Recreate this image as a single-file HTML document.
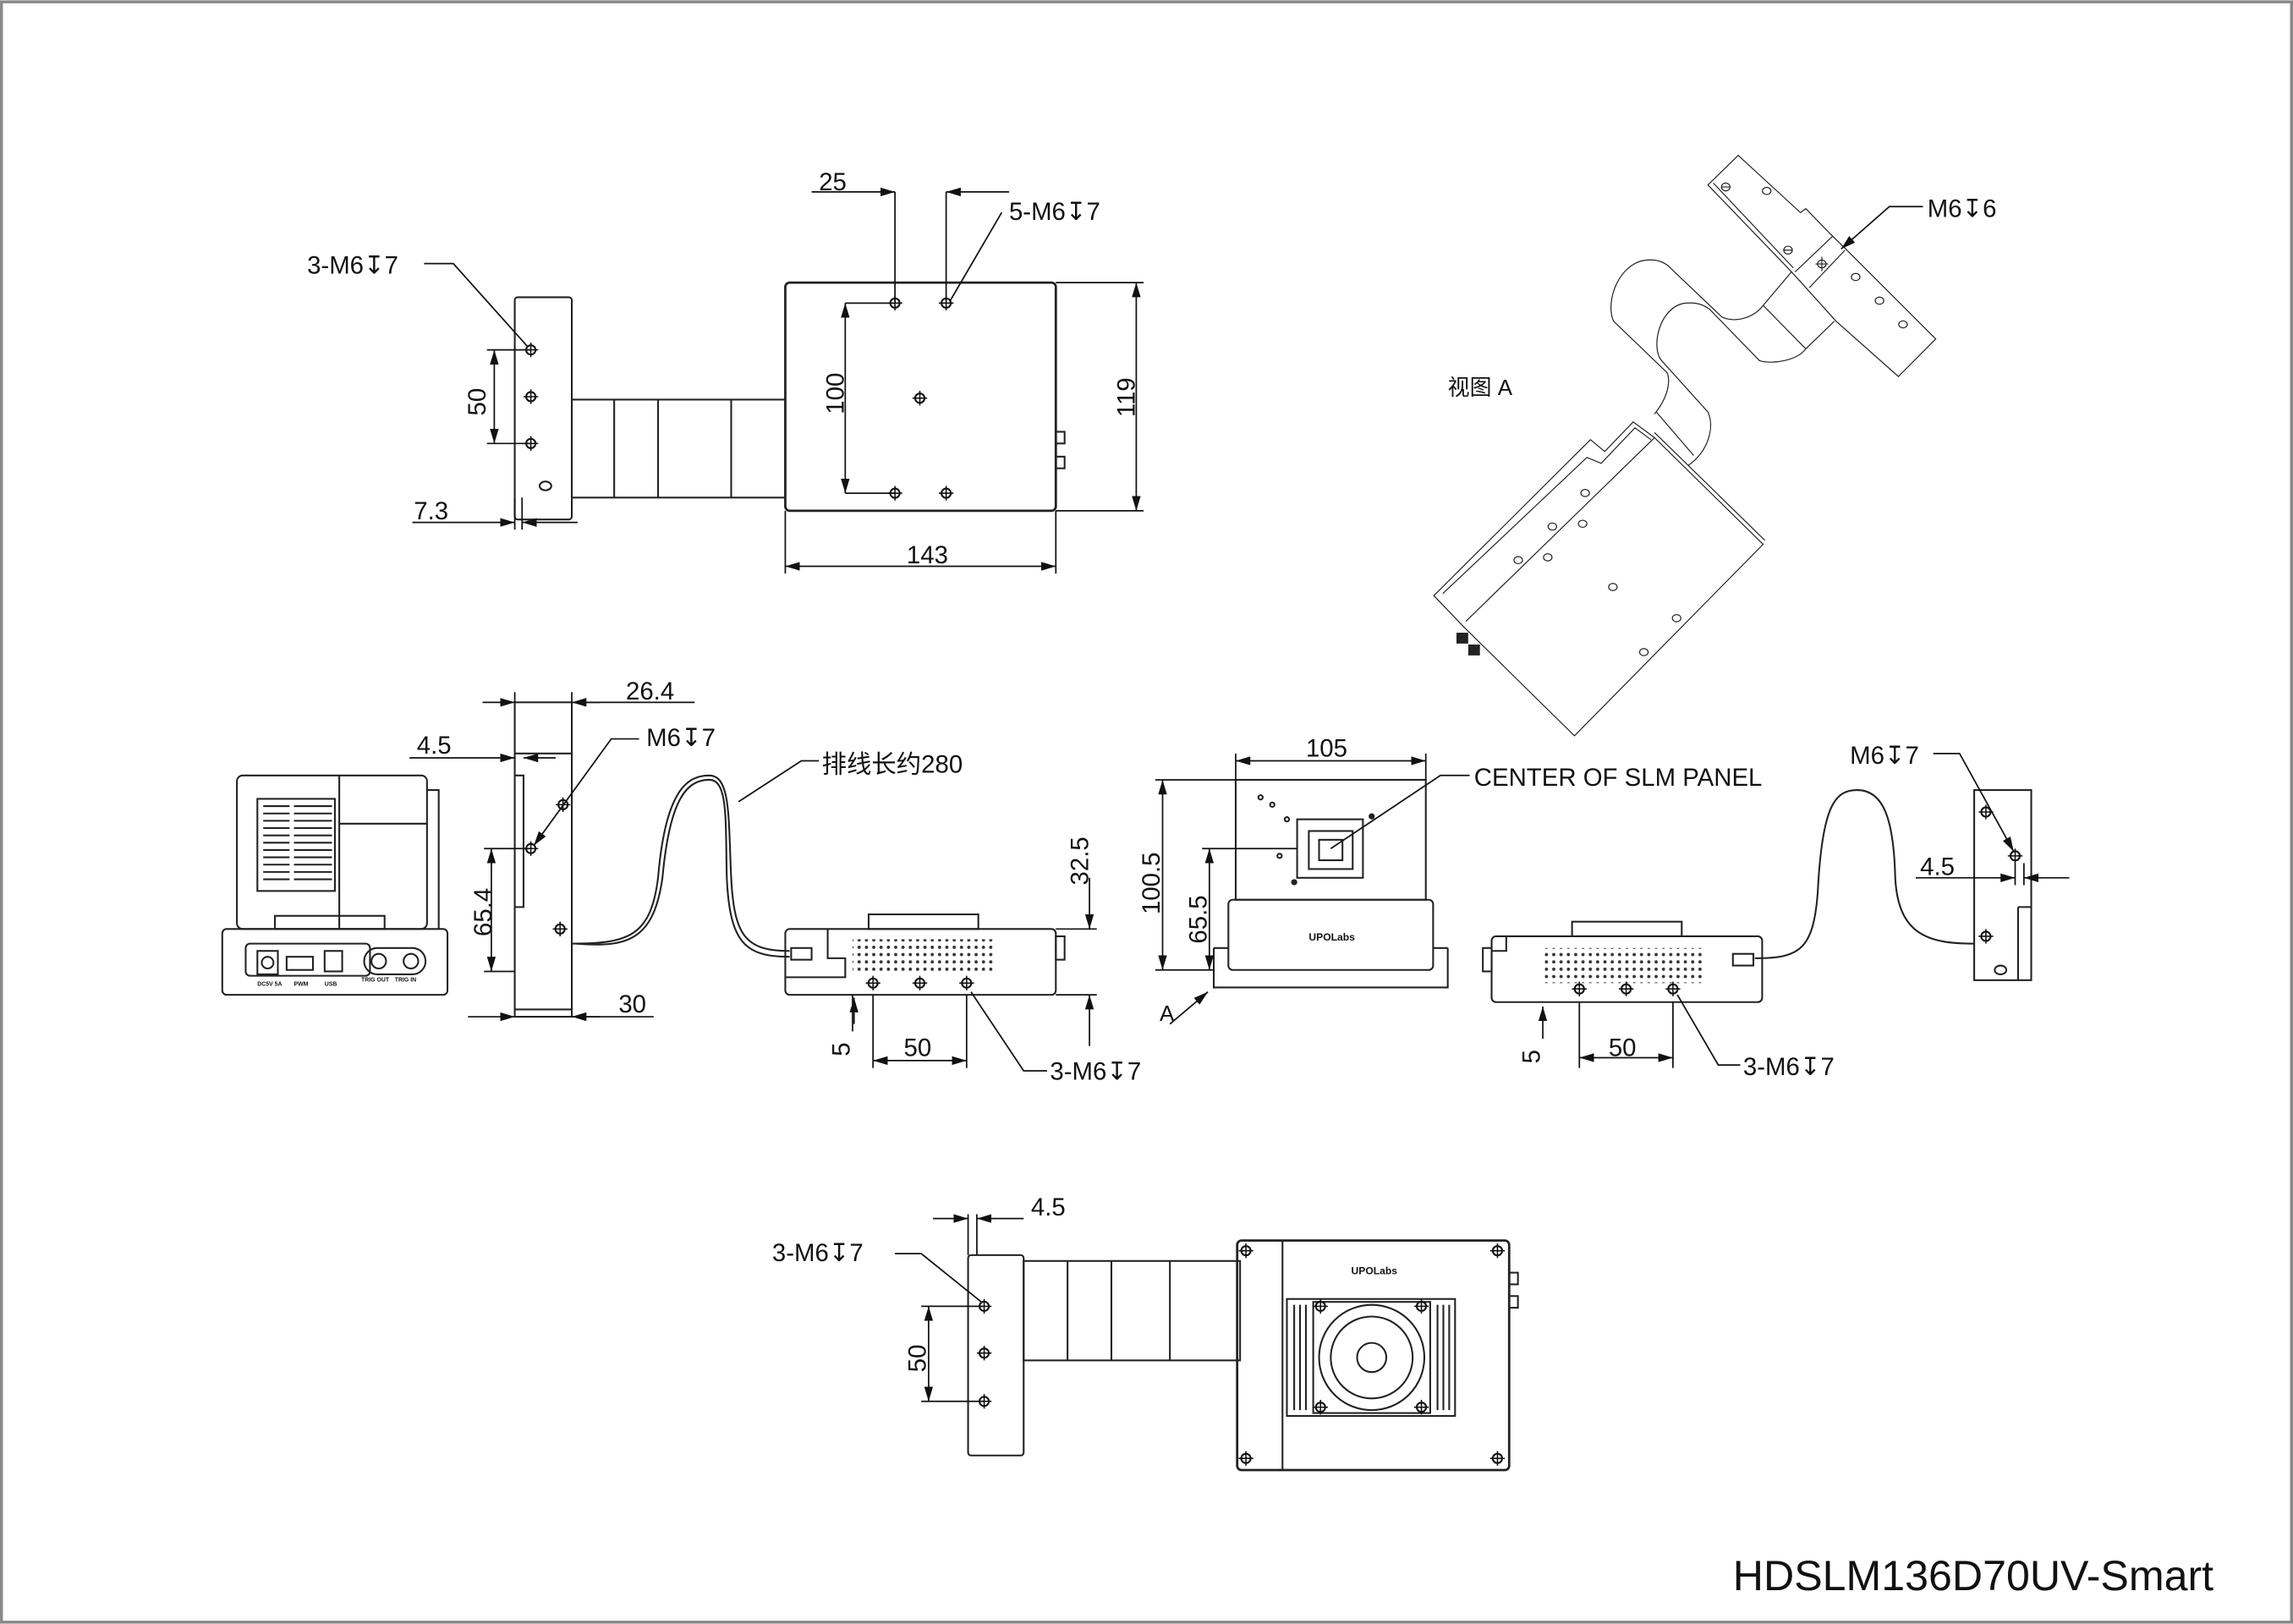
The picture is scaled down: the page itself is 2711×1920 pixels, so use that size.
<!DOCTYPE html>
<html><head><meta charset="utf-8"><style>
html,body{margin:0;padding:0;background:#fff;}
svg{display:block;}
text{font-family:"Liberation Sans","Noto Sans CJK SC",sans-serif;fill:#111;}
</style></head><body>
<svg width="2711" height="1920" viewBox="0 0 1568 1110" xmlns="http://www.w3.org/2000/svg">
<defs>
<marker id="a" viewBox="0 0 10 6" refX="10" refY="3" markerWidth="10" markerHeight="6" orient="auto-start-reverse" markerUnits="userSpaceOnUse"><path d="M0,0L10,3L0,6z" fill="#111"/></marker>
<g id="h"><circle r="3.2" fill="none" stroke="#111" stroke-width="1.2"/><path d="M-5,0H5M0,-5V5" stroke="#111" stroke-width="0.9"/></g>
<pattern id="dots" width="5" height="5" patternUnits="userSpaceOnUse"><circle cx="2.5" cy="2.5" r="1.1" fill="#333"/></pattern>
</defs>
<rect x="1" y="1" width="1566" height="1108" fill="#fff" stroke="#888" stroke-width="2"/>
<g fill="none" stroke="#222" stroke-width="1.2">
<!-- TOP VIEW -->
<rect x="352" y="203" width="39" height="152" rx="2"/>
<rect x="391" y="273" width="146" height="67"/>
<path d="M420,273V340M450,273V340M500,273V340"/>
<rect x="537" y="193" width="185" height="156" rx="3" stroke-width="1.6"/>
<rect x="722" y="295" width="6" height="8"/><rect x="722" y="312" width="6" height="8"/>
<ellipse cx="373" cy="332" rx="4" ry="3"/>
</g>
<use href="#h" x="363" y="239"/><use href="#h" x="363" y="271"/><use href="#h" x="363" y="303"/>
<use href="#h" x="612" y="207"/><use href="#h" x="647" y="207"/><use href="#h" x="629" y="272"/><use href="#h" x="612" y="337"/><use href="#h" x="647" y="337"/>
<g stroke="#111" stroke-width="1" fill="none">
<path d="M722,193H782M722,349H782"/><path d="M777,193V349" marker-start="url(#a)" marker-end="url(#a)"/>
<path d="M537,349V392M722,349V392"/><path d="M537,387H722" marker-start="url(#a)" marker-end="url(#a)"/>
<path d="M578,207V337" marker-start="url(#a)" marker-end="url(#a)"/><path d="M578,207H612M578,337H612"/>
<path d="M612,207V131M647,207V131"/><path d="M555,131H612" marker-end="url(#a)"/><path d="M690,131H647" marker-end="url(#a)"/>
<path d="M685,145L650,205"/>
<path d="M290,180H310L361,237"/>
<path d="M338,239V303" marker-start="url(#a)" marker-end="url(#a)"/><path d="M333,239H363M333,303H363"/>
<path d="M352,340V362M357,340V362"/><path d="M282,357H352" marker-end="url(#a)"/><path d="M395,357H357" marker-end="url(#a)"/>
</g>
<g font-size="17">
<text x="560" y="130">25</text><text x="690" y="150">5-M6↧7</text>
<text x="210" y="187">3-M6↧7</text>
<text x="620" y="385">143</text>
<text transform="translate(776,285) rotate(-90)">119</text>
<text transform="translate(577,283) rotate(-90)">100</text>
<text transform="translate(332,284) rotate(-90)">50</text>
<text x="283" y="355">7.3</text>
</g>
<!-- ISO VIEW A -->
<g transform="matrix(0.2434,0,0,0.270,965.9,92.5)" fill="none" stroke="#222" stroke-width="1.2">
<g vector-effect="non-scaling-stroke">
<polygon vector-effect="non-scaling-stroke" points="60,1165 500,770 540,800 620,725 680,765 985,1035 455,1520 145,1245"/>
<path vector-effect="non-scaling-stroke" d="M150,1230L680,765M85,1160L490,815L530,830L625,740L670,770M680,752L990,1025"/>
<ellipse vector-effect="non-scaling-stroke" cx="485" cy="905" rx="12" ry="9"/>
<ellipse vector-effect="non-scaling-stroke" cx="393" cy="990" rx="12" ry="9"/>
<ellipse vector-effect="non-scaling-stroke" cx="478" cy="983" rx="12" ry="9"/>
<ellipse vector-effect="non-scaling-stroke" cx="297" cy="1075" rx="12" ry="9"/>
<ellipse vector-effect="non-scaling-stroke" cx="380" cy="1068" rx="12" ry="9"/>
<ellipse vector-effect="non-scaling-stroke" cx="563" cy="1143" rx="12" ry="9"/>
<ellipse vector-effect="non-scaling-stroke" cx="742" cy="1222" rx="12" ry="9"/>
<ellipse vector-effect="non-scaling-stroke" cx="650" cy="1308" rx="12" ry="9"/>
<rect vector-effect="non-scaling-stroke" x="125" y="1260" width="30" height="25" fill="#222"/>
<rect vector-effect="non-scaling-stroke" x="158" y="1290" width="30" height="25" fill="#222"/>
<path vector-effect="non-scaling-stroke" d="M680,705C720,660 725,620 715,600L565,470C540,420 580,320 660,315C700,312 720,330 730,340L870,460C910,475 960,460 985,430L1065,345"/>
<path vector-effect="non-scaling-stroke" d="M775,835C830,800 850,740 830,700L700,570C670,540 690,440 760,425C800,420 820,430 835,440L975,570C1010,580 1080,570 1105,540L1185,470"/>
<path vector-effect="non-scaling-stroke" d="M685,700L790,810M985,430L1105,540"/>
<polygon vector-effect="non-scaling-stroke" points="830,125 915,50 1090,195 1105,185 1175,250 1215,285 1470,515 1365,610 1190,470 1105,385 1065,345"/>
<path vector-effect="non-scaling-stroke" d="M845,120L1070,335M1075,345L1180,255M1115,385L1215,290"/>
<ellipse vector-effect="non-scaling-stroke" cx="995" cy="140" rx="12" ry="9"/>
<ellipse vector-effect="non-scaling-stroke" cx="1245" cy="358" rx="12" ry="9"/>
<ellipse vector-effect="non-scaling-stroke" cx="1312" cy="418" rx="12" ry="9"/>
<ellipse vector-effect="non-scaling-stroke" cx="1378" cy="478" rx="12" ry="9"/>
<ellipse vector-effect="non-scaling-stroke" cx="880" cy="130" rx="12" ry="10"/>
<ellipse vector-effect="non-scaling-stroke" cx="1055" cy="290" rx="12" ry="10"/>
<ellipse vector-effect="non-scaling-stroke" cx="1150" cy="325" rx="12" ry="10"/>
<path vector-effect="non-scaling-stroke" d="M1132,325H1168M1150,307V343M868,130H892M1043,290H1067"/>
</g>
</g>
<path d="M1315,141H1292L1259,170" stroke="#111" fill="none" marker-end="url(#a)"/>
<text x="1318" y="148" font-size="17">M6↧6</text>
<text x="990" y="270" font-size="15">视图 A</text>
<!-- MIDDLE LEFT DEVICE -->
<g fill="none" stroke="#222" stroke-width="1.2">
<rect x="152" y="635" width="154" height="45" rx="3"/>
<rect x="162" y="530" width="130" height="105" rx="4"/>
<path d="M232,530V635M232,563H292M292,540H300V635"/>
<rect x="176" y="546" width="53" height="63"/>
<path d="M180,551H198M201,551H227M180,556H198M201,556H227M180,561H198M201,561H227M180,566H198M201,566H227M180,571H198M201,571H227M180,576H198M201,576H227M180,581H198M201,581H227M180,586H198M201,586H227M180,591H198M201,591H227M180,596H198M201,596H227M180,601H198M201,601H227"/>
<rect x="188" y="626" width="75" height="9"/>
<rect x="168" y="645" width="85" height="22" rx="3"/>
<rect x="176" y="650" width="14" height="16"/><circle cx="183" cy="658" r="4"/>
<rect x="196" y="654" width="18" height="9"/><rect x="222" y="650" width="12" height="14"/>
<rect x="249" y="648" width="42" height="18" rx="9"/>
<circle cx="259" cy="657" r="5"/><circle cx="281" cy="657" r="5"/>
<rect x="352" y="480" width="39" height="215"/>
<path d="M352,530H358V620H352M352,690H391M352,515H391"/>
<path d="M391,645C430,645 445,640 450,600C455,540 470,530 485,530C500,530 498,560 500,600C502,640 510,650 540,650"/>
<path d="M394,645C430,648 447,642 453,600C458,545 470,533 485,533C498,533 496,560 497,600C499,645 510,654 540,654"/>
</g>
<g font-size="4" font-weight="bold"><text x="176" y="674">DC5V 5A</text><text x="201" y="674">PWM</text><text x="222" y="674">USB</text><text x="247" y="671">TRIG OUT</text><text x="270" y="671">TRIG IN</text></g>
<use href="#h" x="385" y="550"/><use href="#h" x="363" y="580"/><use href="#h" x="383" y="635"/>
<g stroke="#111" stroke-width="1" fill="none">
<path d="M352,480V473M391,480V473"/><path d="M391,480H475"/><path d="M330,480H352" marker-end="url(#a)"/><path d="M410,480H391" marker-end="url(#a)"/>
<path d="M280,518H352" marker-end="url(#a)"/><path d="M380,518H358" marker-end="url(#a)"/>
<path d="M437,505H418L365,578" marker-end="url(#a)"/>
<path d="M336,580V664" marker-start="url(#a)" marker-end="url(#a)"/><path d="M331,580H363M331,664H352"/>
<path d="M391,695H447"/><path d="M320,695H352" marker-end="url(#a)"/><path d="M410,695H391" marker-end="url(#a)"/>
<path d="M560,520H548L505,548"/>
</g>
<g font-size="17">
<text x="428" y="478">26.4</text><text x="285" y="515">4.5</text><text x="442" y="510">M6↧7</text>
<text x="423" y="692">30</text>
<text transform="translate(336,640) rotate(-90)">65.4</text>
<text x="562" y="528">排线长约280</text>
</g>
<!-- MIDDLE DEVICE 2 -->
<g fill="none" stroke="#222" stroke-width="1.2">
<rect x="537" y="635" width="185" height="45" rx="3"/>
<path d="M566,635V655H578V668H537"/>
<rect x="594" y="625" width="75" height="10"/>
<rect x="722" y="640" width="6" height="16"/>
<rect x="541" y="648" width="14" height="8"/>
</g>
<rect x="583" y="642" width="98" height="24" fill="url(#dots)"/>
<use href="#h" x="597" y="672"/><use href="#h" x="629" y="672"/><use href="#h" x="661" y="672"/>
<g stroke="#111" stroke-width="1" fill="none">
<path d="M722,635H750M722,680H750"/><path d="M745,600V635" marker-end="url(#a)"/><path d="M745,715V680" marker-end="url(#a)"/>
<path d="M583,680V705M597,680V730M661,680V730"/><path d="M597,725H661" marker-start="url(#a)" marker-end="url(#a)"/>
<path d="M584,700V682" marker-end="url(#a)"/>
<path d="M716,732H700L664,678"/>
</g>
<g font-size="17">
<text transform="translate(744,605) rotate(-90)">32.5</text>
<text transform="translate(581,722) rotate(-90)">5</text>
<text x="618" y="722">50</text><text x="718" y="738">3-M6↧7</text>
</g>
<!-- CENTER FRONT VIEW -->
<g fill="none" stroke="#222" stroke-width="1.2">
<rect x="845" y="533" width="130" height="82"/>
<rect x="840" y="615" width="140" height="48" rx="3"/>
<path d="M830,648H840M980,648H990M830,648V675H990V648"/>
<rect x="887" y="560" width="45" height="40"/><rect x="895" y="568" width="30" height="26"/><rect x="902" y="574" width="16" height="14"/>
<circle cx="862" cy="545" r="1.5"/><circle cx="870" cy="550" r="1.5"/><circle cx="880" cy="560" r="1.5"/><circle cx="875" cy="585" r="1.5"/><circle cx="885" cy="603" r="1.5" fill="#222"/><circle cx="938" cy="558" r="1.5" fill="#222"/>
</g>
<text x="895" y="643" font-size="7" font-weight="bold" font-family="Liberation Serif">UPOLabs</text>
<g stroke="#111" stroke-width="1" fill="none">
<path d="M845,533V515M975,533V515"/><path d="M845,520H975" marker-start="url(#a)" marker-end="url(#a)"/>
<path d="M790,533H845M790,663H830M822,580H887"/>
<path d="M795,533V663" marker-start="url(#a)" marker-end="url(#a)"/>
<path d="M827,580V663" marker-start="url(#a)" marker-end="url(#a)"/>
<path d="M1005,530H985L910,580"/>
<path d="M800,700L826,678" marker-end="url(#a)"/>
</g>
<g font-size="17">
<text x="893" y="517">105</text><text x="1008" y="537">CENTER OF SLM PANEL</text>
<text transform="translate(793,625) rotate(-90)">100.5</text>
<text transform="translate(825,645) rotate(-90)">65.5</text>
<text x="793" y="698" font-size="15">A</text>
</g>
<!-- RIGHT DEVICE -->
<g fill="none" stroke="#222" stroke-width="1.2">
<rect x="1020" y="640" width="185" height="45" rx="3"/>
<path d="M1020,650H1030V640"/>
<rect x="1075" y="630" width="75" height="10"/>
<rect x="1014" y="648" width="6" height="16"/>
<rect x="1185" y="652" width="14" height="8"/>
<path d="M1200,655C1230,655 1240,650 1243,610C1246,550 1255,540 1270,540C1288,540 1295,560 1296,600C1298,640 1320,645 1350,645"/>
<rect x="1350" y="540" width="39" height="130"/>
<path d="M1380,620H1389M1380,620V670"/>
<ellipse cx="1368" cy="663" rx="4" ry="3"/>
</g>
<rect x="1055" y="648" width="110" height="24" fill="url(#dots)"/>
<use href="#h" x="1080" y="676"/><use href="#h" x="1112" y="676"/><use href="#h" x="1144" y="676"/>
<use href="#h" x="1358" y="555"/><use href="#h" x="1378" y="585"/><use href="#h" x="1358" y="640"/>
<g stroke="#111" stroke-width="1" fill="none">
<path d="M1322,515H1340L1377,582" marker-end="url(#a)"/>
<path d="M1310,600H1378" marker-end="url(#a)"/><path d="M1415,600H1384" marker-end="url(#a)"/><path d="M1378,590V605M1384,590V605"/>
<path d="M1055,710V688" marker-end="url(#a)"/>
<path d="M1080,685V730M1144,685V730"/><path d="M1080,723H1144" marker-start="url(#a)" marker-end="url(#a)"/>
<path d="M1190,728H1175L1147,680"/>
</g>
<g font-size="17">
<text x="1265" y="522">M6↧7</text><text x="1313" y="598">4.5</text>
<text transform="translate(1053,727) rotate(-90)">5</text>
<text x="1100" y="722">50</text><text x="1192" y="735">3-M6↧7</text>
</g>
<!-- BOTTOM VIEW -->
<g fill="none" stroke="#222" stroke-width="1.2">
<rect x="662" y="858" width="38" height="137" rx="2"/>
<rect x="700" y="862" width="148" height="68"/>
<path d="M730,862V930M760,862V930M800,862V930"/>
<rect x="846" y="848" width="186" height="157" rx="3" stroke-width="1.6"/>
<path d="M877,848V1005"/>
<rect x="880" y="888" width="115" height="80"/>
<rect x="898" y="890" width="80" height="76"/>
<circle cx="938" cy="928" r="36"/><circle cx="938" cy="928" r="28"/><circle cx="938" cy="928" r="10"/>
<path d="M885,892V964M889,892V964M893,892V964M983,892V964M987,892V964M991,892V964"/>
<rect x="1032" y="870" width="6" height="8"/><rect x="1032" y="886" width="6" height="8"/>
</g>
<use href="#h" x="852" y="855"/><use href="#h" x="1024" y="855"/><use href="#h" x="852" y="997"/><use href="#h" x="1024" y="997"/>
<use href="#h" x="903" y="893"/><use href="#h" x="972" y="893"/><use href="#h" x="903" y="962"/><use href="#h" x="972" y="962"/>
<use href="#h" x="673" y="893"/><use href="#h" x="673" y="925"/><use href="#h" x="673" y="958"/>
<text x="924" y="871" font-size="7" font-weight="bold" font-family="Liberation Serif">UPOLabs</text>
<g stroke="#111" stroke-width="1" fill="none">
<path d="M662,858V830M668,858V830"/><path d="M638,833H662" marker-end="url(#a)"/><path d="M700,833H668" marker-end="url(#a)"/>
<path d="M612,857H630L671,890"/>
<path d="M635,893V958" marker-start="url(#a)" marker-end="url(#a)"/><path d="M630,893H673M630,958H673"/>
</g>
<g font-size="17">
<text x="705" y="831">4.5</text><text x="528" y="862">3-M6↧7</text>
<text transform="translate(633,938) rotate(-90)">50</text>
</g>
<text x="1185" y="1087" font-size="29" font-family="'DejaVu Sans','Liberation Sans',sans-serif">HDSLM136D70UV-Smart</text>
</svg>
</body></html>
